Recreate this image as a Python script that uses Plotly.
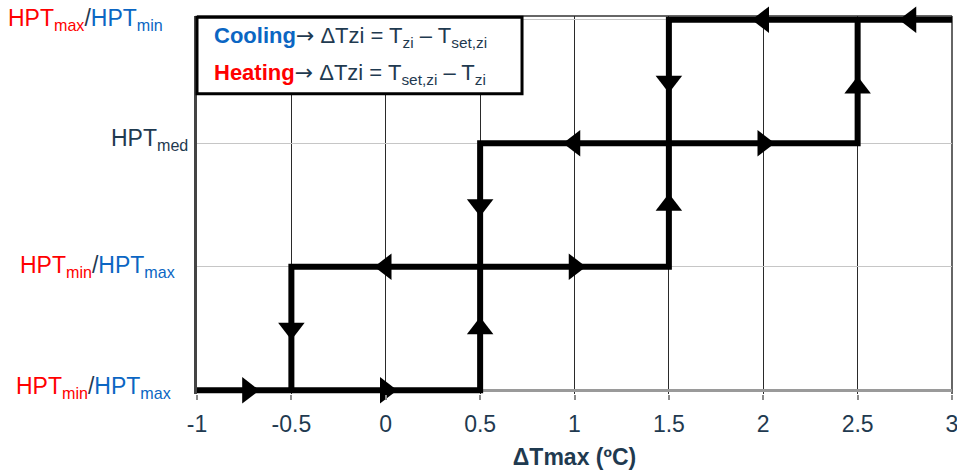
import plotly.graph_objects as go

# ---------------- data ----------------
x_ticks = [-1, -0.5, 0, 0.5, 1, 1.5, 2, 2.5, 3]
x_tick_text = ["-1", "-0.5", "0", "0.5", "1", "1.5", "2", "2.5", "3"]

levels = [0, 1, 2, 3]
RED = "#FF0000"
BLUE = "#0B66C3"
NAVY = "#1F3A50"
level_labels = [
    f'<span style="color:{RED}">HPT<sub>min</sub></span><span style="color:{NAVY}">/</span><span style="color:{BLUE}">HPT<sub>max</sub></span>',
    f'<span style="color:{RED}">HPT<sub>min</sub></span><span style="color:{NAVY}">/</span><span style="color:{BLUE}">HPT<sub>max</sub></span>',
    f'<span style="color:{NAVY}">HPT<sub>med</sub></span>',
    f'<span style="color:{RED}">HPT<sub>max</sub></span><span style="color:{NAVY}">/</span><span style="color:{BLUE}">HPT<sub>min</sub></span>',
]

# hysteresis paths (x in °C, y = level index)
path_a_x = [-1, 0.5, 0.5, 2.5, 2.5]
path_a_y = [0, 0, 2, 2, 3]
path_b_x = [-0.5, -0.5, 1.5, 1.5, 3]
path_b_y = [0, 1, 1, 3, 3]

# direction arrows
arrow_x = [-0.73, 0, -0.5, 0, 1, 0.5, 0.5, 1, 2, 1.5, 1.5, 2.5, 2, 2.78]
arrow_y = [0, 0, 0.5, 1, 1, 0.5, 1.5, 2, 2, 1.5, 2.5, 2.45, 3, 3]
arrow_dir = ["right", "right", "down", "left", "right", "up", "down",
             "left", "right", "up", "down", "up", "left", "left"]

ARROW = '<span style="font-family:DejaVu Sans">→</span>'
legend_lines = [
    f'<b><span style="color:{BLUE}">Cooling</span></b>{ARROW} ΔTzi = T<sub>zi</sub> – T<sub>set,zi</sub>',
    f'<b><span style="color:{RED}">Heating</span></b>{ARROW} ΔTzi = T<sub>set,zi</sub> – T<sub>zi</sub>',
]
x_title = "<b>ΔTmax (ºC)</b>"

FONT = "Liberation Sans, Arial, sans-serif"

fig = go.Figure()

fig.add_trace(go.Scatter(
    x=path_a_x + [None] + path_b_x,
    y=path_a_y + [None] + path_b_y,
    mode="lines",
    line=dict(color="black", width=6),
    hoverinfo="skip",
    showlegend=False,
))

fig.add_trace(go.Scatter(
    x=arrow_x, y=arrow_y, mode="markers",
    marker=dict(symbol=["triangle-" + d for d in arrow_dir], size=23,
                color="black", line=dict(width=0)),
    cliponaxis=False, hoverinfo="skip", showlegend=False,
))

# level labels on the left
label_xshift = [-24, -20, -7, -32]
label_yshift = [3, 0, 4, 0]
for lv, txt, xs, ys in zip(levels, level_labels, label_xshift, label_yshift):
    fig.add_annotation(
        x=0, xref="paper", y=lv, yref="y", text=txt, showarrow=False,
        xanchor="right", yanchor="middle", xshift=xs, yshift=ys,
        font=dict(family=FONT, size=23, color=NAVY),
    )

# legend box
fig.add_shape(type="rect", xref="paper", yref="paper",
              x0=0, x1=0.4305, y0=0.7943, y1=0.9968,
              line=dict(color="black", width=3), fillcolor="white", layer="above")
for i, txt in enumerate(legend_lines):
    fig.add_annotation(
        x=0, xref="paper", y=1, yref="paper", text=txt, showarrow=False,
        xanchor="left", yanchor="middle", xshift=15, yshift=-21 - 37 * i,
        font=dict(family=FONT, size=22, color=NAVY),
    )

# top and right frame lines
fig.add_shape(type="line", xref="paper", yref="paper", x0=0, x1=1, y0=1, y1=1,
              line=dict(color="#333333", width=1.5), layer="below")
fig.add_shape(type="line", xref="paper", yref="paper", x0=1, x1=1, y0=0, y1=1,
              line=dict(color="#333333", width=1.5), layer="below")

fig.update_layout(
    width=957, height=475,
    margin=dict(l=197, r=5, t=16, b=81, autoexpand=False),
    plot_bgcolor="white", paper_bgcolor="white",
    font=dict(family=FONT, color=NAVY),
    xaxis=dict(
        range=[-1, 3], tickvals=x_ticks, ticktext=x_tick_text,
        automargin=False,
        showgrid=True, gridcolor="#2a2a2a", gridwidth=1,
        zeroline=False, showline=False,
        ticks="outside", ticklen=5, tickwidth=2, tickcolor="#8c8c8c",
        ticklabelstandoff=4, ticklabeloverflow="allow",
        tickfont=dict(family=FONT, size=23, color=NAVY),
        title=dict(text=x_title, font=dict(family=FONT, size=23, color=NAVY), standoff=13),
    ),
    yaxis=dict(
        range=[-0.03, 3.03], tickvals=levels, showticklabels=False,
        automargin=False,
        showgrid=True, gridcolor="#c6c6c6", gridwidth=1.2,
        zeroline=True, zerolinecolor="#9a9a9a", zerolinewidth=2.5,
        showline=True, linecolor="#444444", linewidth=2.5,
        ticks="",
    ),
)

fig.write_html("out.html", config={"displayModeBar": False},
               post_script="document.body.style.margin='0';")
